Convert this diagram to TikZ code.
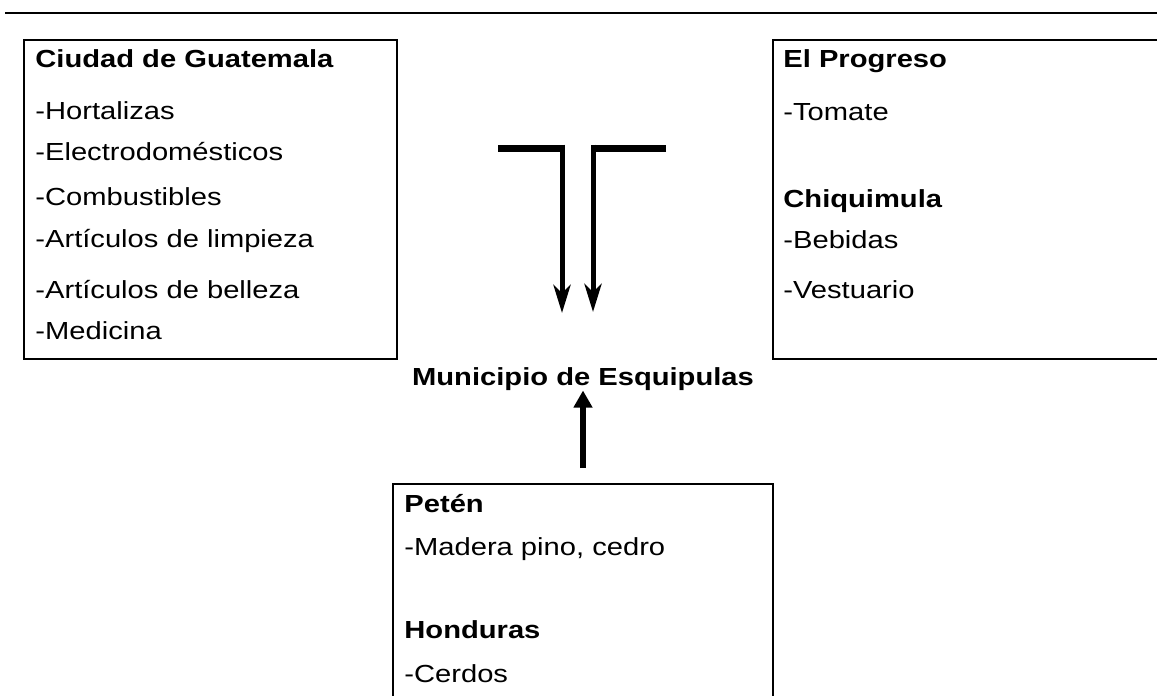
\documentclass[tikz,border=0pt]{standalone}
\usepackage{fontspec}
\setmainfont{Liberation Sans}[FakeStretch=1.18]
\usetikzlibrary{arrows.meta,positioning}
\tikzset{
    box/.style={
           rectangle,
           draw=black, line width=1pt,
           anchor=north west,
           inner sep=0pt
           },
    item/.style={
           anchor=base west,
           inner sep=0pt,
           font=\fontsize{12.35}{14}\selectfont
           },
    head/.style={
           item,
           font=\fontsize{12.35}{14}\selectfont\bfseries
           },
    bar/.style={
           line width=3.5pt
           },
    down/.style={
           line width=2.5pt,
           -{Stealth[length=14pt,width=8.5pt,inset=4pt]}
           },
    up/.style={
           line width=3pt,
           -{Triangle[length=8.5pt,width=9pt]}
           }
}
\begin{document}
\begin{tikzpicture}[x=0.5pt,y=-0.5pt]
   \useasboundingbox (0,0) rectangle (1157,696);
   \clip (0,0) rectangle (1157,696);
   \draw[line width=1pt] (5,13) -- (1157,13);

   \node[box,minimum width=186.5pt,minimum height=159.5pt] (guate) at (23,39) {};
   \node[head] (g0) at (35,68)  {Ciudad de Guatemala};
   \node[item] (g1) at (35,119) {-Hortalizas};
   \node[item] (g2) at (35,160) {-Electrodomésticos};
   \node[item] (g3) at (35,205) {-Combustibles};
   \node[item] (g4) at (35,247) {-Artículos de limpieza};
   \node[item] (g5) at (35,298) {-Artículos de belleza};
   \node[item] (g6) at (35,339) {-Medicina};

   \node[box,minimum width=200pt,minimum height=159.5pt] (progreso) at (772,39) {};
   \node[head] (r0) at (783,68)  {El Progreso};
   \node[item] (r1) at (783,120) {-Tomate};
   \node[head] (r2) at (783,207) {Chiquimula};
   \node[item] (r3) at (783,248) {-Bebidas};
   \node[item] (r4) at (783,298) {-Vestuario};

   \node[box,minimum width=190pt,minimum height=115pt] (peten) at (392,483) {};
   \node[head] (b0) at (404,512) {Petén};
   \node[item] (b1) at (404,555) {-Madera pino, cedro};
   \node[head] (b2) at (404,638) {Honduras};
   \node[item] (b3) at (404,682) {-Cerdos};

   \node[head,anchor=base] (muni) at (583,385) {Municipio de Esquipulas};

   \coordinate (gt0) at (498,148);
   \coordinate (gt1) at (562,148);
   \coordinate (gt2) at (562,313);
   \coordinate (pr0) at (666,148);
   \coordinate (pr1) at (593,148);
   \coordinate (pr2) at (593,312);

   \draw[bar] (gt0) -- ([xshift=1.25pt]gt1);
   \draw[down] ([yshift=1.75pt]gt1) -- (gt2);
   \draw[bar] (pr0) -- ([xshift=-1.25pt]pr1);
   \draw[down] ([yshift=1.75pt]pr1) -- (pr2);
   \draw[up] ([yshift=7.5pt]peten.north) -- (muni.south -| peten.north);
\end{tikzpicture}
\end{document}
